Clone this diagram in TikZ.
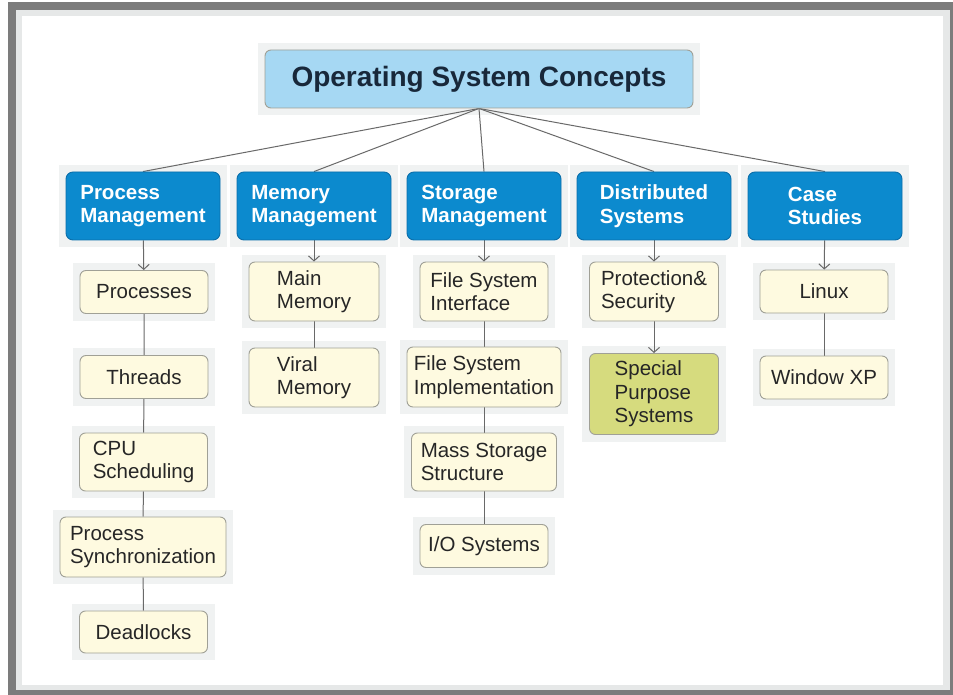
\documentclass[tikz,border=0pt]{standalone}
\usepackage{fontspec}
\setmainfont{Liberation Sans}
\usetikzlibrary{arrows.meta}
\pgfdeclarelayer{bg}
\pgfsetlayers{bg,main}

\definecolor{framedark}{RGB}{124,124,124}
\definecolor{framelight}{RGB}{230,232,232}
\definecolor{halo}{RGB}{240,242,242}
\definecolor{titlefill}{RGB}{166,216,243}
\definecolor{titletext}{RGB}{24,40,58}
\definecolor{topicfill}{RGB}{12,138,206}
\definecolor{topicedge}{RGB}{10,110,170}
\definecolor{itemfill}{RGB}{254,250,224}
\definecolor{itemedge}{RGB}{160,160,150}
\definecolor{itemtext}{RGB}{38,38,38}
\definecolor{specialfill}{RGB}{214,219,126}
\definecolor{linkgray}{RGB}{105,105,105}

\tikzset{
    box/.style={line width=0.9pt, rounded corners=6pt, align=left, inner sep=0pt},
    maintitle/.style={box, draw=itemedge, fill=titlefill, text=titletext,
        minimum width=428, minimum height=58,
        font=\fontsize{28}{32}\selectfont\bfseries},
    topic/.style={box, draw=topicedge, fill=topicfill, text=white,
        minimum width=154, minimum height=68, rounded corners=7pt,
        font=\fontsize{20.5}{23.5}\selectfont\bfseries},
    item/.style={box, draw=itemedge, fill=itemfill, text=itemtext,
        minimum width=128, minimum height=43,
        font=\fontsize{20.5}{23.5}\selectfont},
    link/.style={draw=linkgray, line width=1pt},
    linkarrow/.style={link, -{Straight Barb[length=5pt, width=11pt]}}
}

\begin{document}
\begin{tikzpicture}[x=1pt, y=-1pt]
    \useasboundingbox (0,0) rectangle (953,695);

    \node[maintitle] (osc) at (479,79) {Operating System Concepts};

    \node[topic] (procM) at (143,206) {Process\\Management};
    \node[topic] (memM) at (314,206) {Memory\\Management};
    \node[topic] (storM) at (484,206) {Storage\\Management};
    \node[topic] (distS) at (654,206) {Distributed\\Systems};
    \node[topic] (caseS) at (825,206) {Case\\Studies};

    \node[item] (processes) at (144,292) {Processes};
    \node[item] (threads) at (144,377) {Threads};
    \node[item, minimum height=58] (cpu) at (143.5,462) {CPU\\Scheduling};
    \node[item, minimum width=166, minimum height=60] (sync) at (143,547) {Process\\Synchronization};
    \node[item, minimum height=42] (deadlocks) at (143.5,632) {Deadlocks};

    \node[item, minimum width=130, minimum height=59] (mainMem) at (314,291.5) {Main\\Memory};
    \node[item, minimum width=130, minimum height=59] (viralMem) at (314,377.5) {Viral\\Memory};

    \node[item, minimum height=59] (fsInt) at (484,291.5) {File System\\Interface};
    \node[item, minimum width=154, minimum height=60] (fsImpl) at (484,377) {File System\\Implementation};
    \node[item, minimum width=145, minimum height=58] (massStor) at (484,462) {Mass Storage\\Structure};
    \node[item] (ioSys) at (484,546) {I/O Systems};

    \node[item, minimum width=129, minimum height=59] (protSec) at (654,291.5) {Protection\&\\Security};
    \node[item, fill=specialfill, minimum width=129, minimum height=81] (special) at (654,394) {Special\\Purpose\\Systems};

    \node[item] (linux) at (824,291.5) {Linux};
    \node[item] (winXP) at (824,377.5) {Window XP};

    \begin{pgfonlayer}{bg}
        \fill[framedark] (8,2) rectangle (953,695);
        \fill[framelight] (16,10) rectangle (950,690);
        \fill[white] (22,16) rectangle (943,685);

        \foreach \n in {osc, procM, memM, storM, distS, caseS,
            processes, threads, cpu, sync, deadlocks, mainMem, viralMem,
            fsInt, fsImpl, massStor, ioSys, protSec, special, linux, winXP}
            \fill[halo] ([shift={(-7,7)}]\n.south west) rectangle ([shift={(7,-7)}]\n.north east);

        \foreach \t in {procM, memM, storM, distS, caseS}
            \draw[link] (osc.south) -- (\t.north);

        \draw[linkarrow] (procM) -- (processes);
        \draw[linkarrow] (memM) -- (mainMem);
        \draw[linkarrow] (storM) -- (fsInt);
        \draw[linkarrow] (distS) -- (protSec);
        \draw[linkarrow] (caseS) -- (linux);
        \draw[linkarrow] (protSec) -- (special);

        \draw[link] (processes) -- (threads) -- (cpu) -- (sync) -- (deadlocks);
        \draw[link] (mainMem) -- (viralMem);
        \draw[link] (fsInt) -- (fsImpl) -- (massStor) -- (ioSys);
        \draw[link] (linux) -- (winXP);
    \end{pgfonlayer}
\end{tikzpicture}
\end{document}
